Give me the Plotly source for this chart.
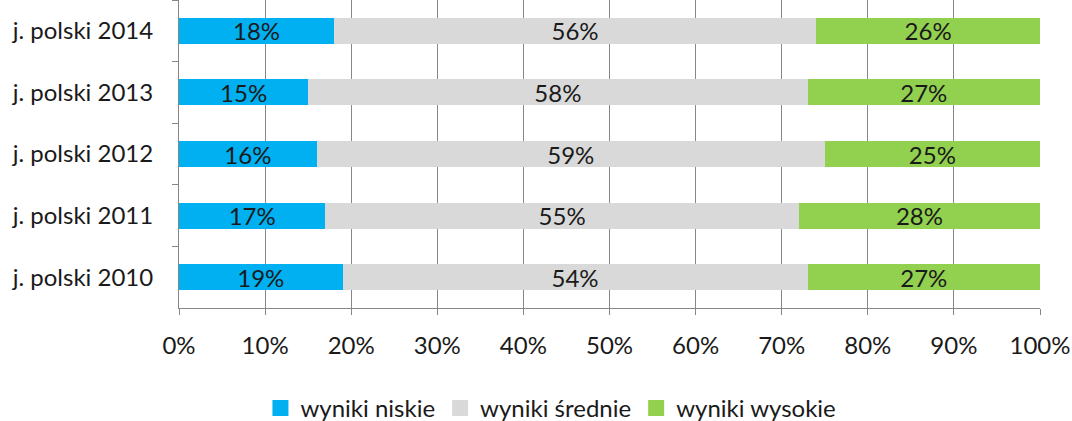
import plotly.graph_objects as go

categories = ["j. polski 2014", "j. polski 2013", "j. polski 2012", "j. polski 2011", "j. polski 2010"]
niskie = [18, 15, 16, 17, 19]
srednie = [56, 58, 59, 55, 54]
wysokie = [26, 27, 25, 28, 27]
series_names = ["wyniki niskie", "wyniki średnie", "wyniki wysokie"]
colors = ["#00B0F0", "#D9D9D9", "#92D050"]
x_ticks = [0, 10, 20, 30, 40, 50, 60, 70, 80, 90, 100]

FONT = "Lato"
TXT = "#1a1a1a"
fig = go.Figure()
for name, vals, col in zip(series_names, [niskie, srednie, wysokie], colors):
    fig.add_trace(go.Bar(
        y=categories, x=[v / 100 for v in vals], name=name, orientation="h",
        marker=dict(color=col, line=dict(width=0)),
        text=[f"{v}%" for v in vals], textposition="inside", insidetextanchor="middle",
        textfont=dict(family=FONT, size=24, color=TXT),
        constraintext="none", hoverinfo="skip", showlegend=False,
    ))
# legend entries with square markers
for name, col in zip(series_names, colors):
    fig.add_trace(go.Scatter(
        x=[None], y=[None], mode="markers", name=name,
        marker=dict(symbol="square", size=16, color=col, line=dict(width=0)),
        showlegend=True,
    ))

fig.update_layout(
    width=1072, height=421,
    barmode="stack", bargap=0.58,
    plot_bgcolor="white", paper_bgcolor="white",
    margin=dict(l=179, r=32, t=0, b=113),
    font=dict(family=FONT, size=24, color=TXT),
    legend=dict(orientation="h", x=0.432, xanchor="center",
                yref="container", y=0.03, yanchor="middle",
                font=dict(family=FONT, size=24, color=TXT), traceorder="normal",
                itemwidth=30),
)
fig.update_xaxes(
    range=[0, 1], tickvals=[t / 100 for t in x_ticks], ticktext=[f"{t}%" for t in x_ticks],
    showgrid=True, gridcolor="#878787", gridwidth=1,
    showline=True, linecolor="#878787", linewidth=1,
    ticks="outside", ticklen=6, tickcolor="#878787",
    ticklabelstandoff=10, zeroline=False,
    tickfont=dict(family=FONT, size=24, color=TXT),
)
fig.update_yaxes(
    autorange="reversed", tickson="boundaries",
    showline=True, linecolor="#878787", linewidth=1,
    ticks="outside", ticklen=6, tickcolor="#878787", showgrid=False,
    ticklabelstandoff=20,
    tickfont=dict(family=FONT, size=24, color=TXT),
)
fig.write_html("out.html", config={"displayModeBar": False},
               post_script="document.body.style.margin='0';document.body.style.padding='0';")
